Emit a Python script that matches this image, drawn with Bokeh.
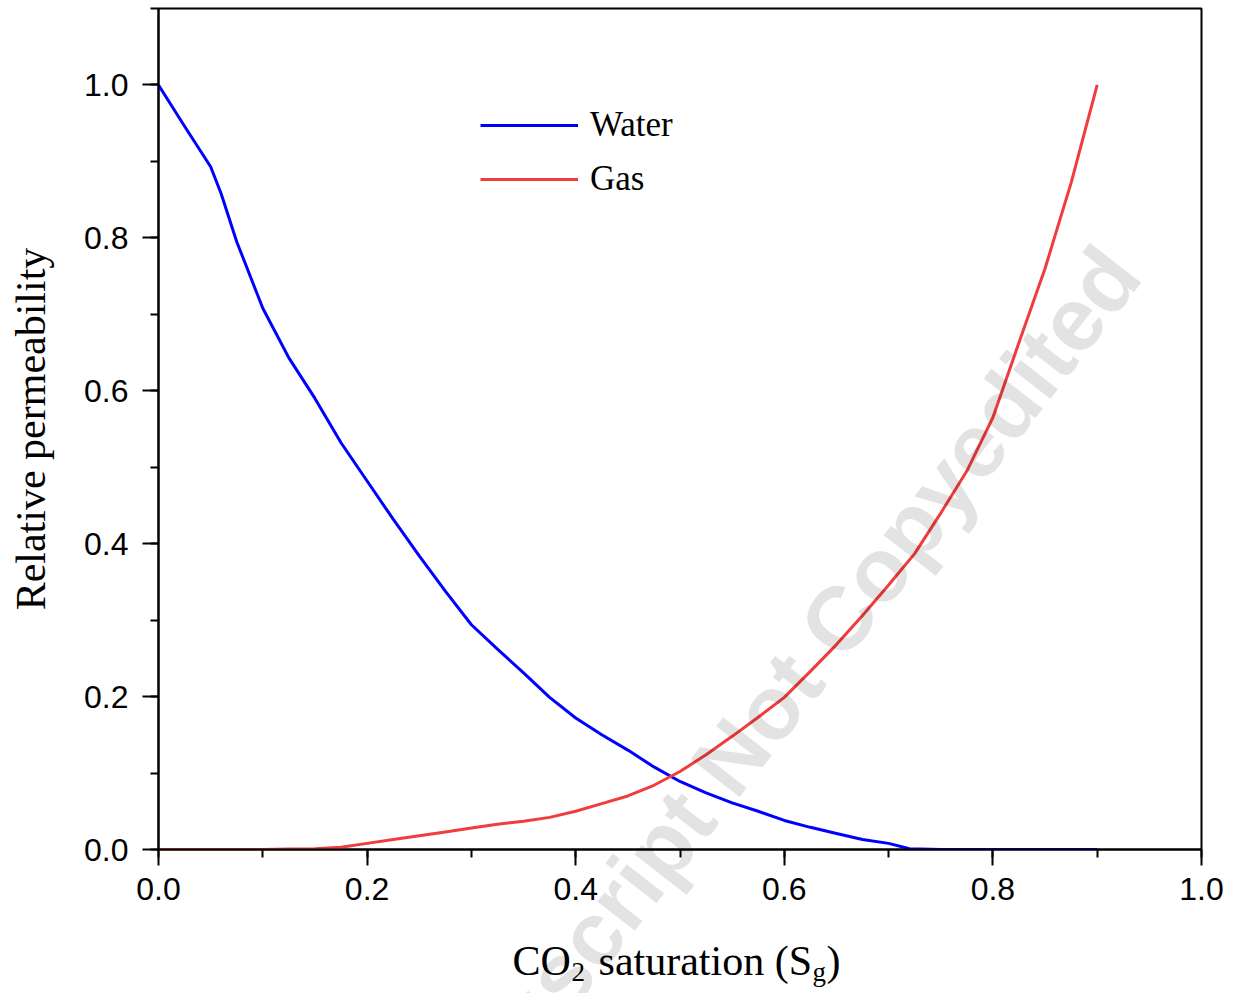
from bokeh.plotting import figure
from bokeh.models import (Label, Legend, LegendItem, SingleIntervalTicker,
                          Range1d, PrintfTickFormatter)
from bokeh.embed import file_html
from bokeh.resources import INLINE

# CO2 saturation (fraction of pore volume)
sg_water = [0.000, 0.025, 0.050, 0.060, 0.075, 0.100, 0.125, 0.150, 0.175,
            0.200, 0.225, 0.250, 0.275, 0.300, 0.325, 0.350, 0.375, 0.400,
            0.425, 0.450, 0.475, 0.500, 0.525, 0.550, 0.575, 0.600, 0.625,
            0.650, 0.675, 0.700, 0.720, 0.750, 0.800, 0.850, 0.900]
# Water relative permeability
krw = [1.000, 0.946, 0.893, 0.858, 0.795, 0.708, 0.643, 0.590, 0.532,
       0.482, 0.432, 0.384, 0.338, 0.294, 0.262, 0.231, 0.199, 0.172,
       0.150, 0.130, 0.108, 0.089, 0.074, 0.061, 0.050, 0.038, 0.029,
       0.021, 0.013, 0.008, 0.001, 0.000, 0.000, 0.000, 0.000]

sg_gas = [0.000, 0.050, 0.100, 0.125, 0.150, 0.175, 0.200, 0.225, 0.250,
          0.275, 0.300, 0.325, 0.350, 0.375, 0.400, 0.425, 0.450, 0.475,
          0.500, 0.525, 0.550, 0.575, 0.600, 0.625, 0.650, 0.675, 0.700,
          0.725, 0.750, 0.775, 0.800, 0.825, 0.850, 0.875, 0.900]
# Gas (CO2) relative permeability
krg = [0.000, 0.000, 0.000, 0.0005, 0.001, 0.003, 0.008, 0.013, 0.018,
       0.023, 0.028, 0.033, 0.037, 0.042, 0.050, 0.060, 0.070, 0.084,
       0.102, 0.124, 0.148, 0.173, 0.199, 0.233, 0.268, 0.306, 0.346,
       0.387, 0.440, 0.495, 0.565, 0.663, 0.760, 0.872, 1.000]

series_names = ["Water", "Gas"]
series_colors = ["#0000FF", "#F03C3C"]

SANS = "Liberation Sans"
SERIF = "Liberation Serif"

p = figure(frame_width=1043, frame_height=841,
           x_range=Range1d(0, 1.0), y_range=Range1d(0, 1.1),
           min_border_left=158, min_border_right=33,
           min_border_top=8, min_border_bottom=144,
           output_backend="svg", toolbar_location=None)

p.grid.visible = False
p.background_fill_color = "white"
p.border_fill_color = "white"
p.outline_line_color = "black"
p.outline_line_width = 2
p.outline_line_alpha = 1.0

for ax in (p.xaxis[0], p.yaxis[0]):
    ax.ticker = SingleIntervalTicker(interval=0.2, num_minor_ticks=2)
    ax.formatter = PrintfTickFormatter(format="%.1f")
    ax.axis_line_color = "black"
    ax.axis_line_width = 2
    ax.major_tick_line_color = "black"
    ax.major_tick_line_width = 2
    ax.minor_tick_line_color = "black"
    ax.minor_tick_line_width = 2
    ax.major_tick_in = 0
    ax.major_tick_out = 16
    ax.minor_tick_in = 0
    ax.minor_tick_out = 8
    ax.major_label_text_font = SANS
    ax.major_label_text_font_size = "32px"
    ax.major_label_text_color = "black"

p.xaxis.major_label_standoff = 12
p.yaxis.major_label_standoff = 14

p.yaxis.axis_label = "Relative permeability"
p.yaxis.axis_label_text_font = SERIF
p.yaxis.axis_label_text_font_style = "normal"
p.yaxis.axis_label_text_font_size = "42px"
p.yaxis.axis_label_text_color = "black"
p.yaxis.axis_label_standoff = 27

r_w = p.line(sg_water, krw, line_color=series_colors[0], line_width=3)
r_g = p.line(sg_gas, krg, line_color=series_colors[1], line_width=3)

legend = Legend(items=[LegendItem(label=series_names[0], renderers=[r_w]),
                       LegendItem(label=series_names[1], renderers=[r_g])],
                location=(322, 648), orientation="vertical",
                border_line_alpha=0, background_fill_alpha=0,
                padding=0, margin=0, spacing=10,
                glyph_width=98, glyph_height=44, label_height=44,
                label_standoff=12,
                label_text_font=SERIF, label_text_font_size="35px",
                label_text_color="black")
p.add_layout(legend)

# x-axis title with subscripts, assembled from separate pieces
# (kept in the lower side panel so they are not clipped to the frame)
title_parts = [("CO", 0.3394, -0.146, "42px"),
               ("2", 0.3960, -0.160, "27px"),
               ("saturation (S", 0.4219, -0.146, "42px"),
               ("g", 0.6270, -0.160, "27px"),
               (")", 0.6405, -0.146, "42px")]
for txt, xx, yy, fs in title_parts:
    p.add_layout(Label(x=xx, y=yy, text=txt, text_font=SERIF,
                       text_font_size=fs, text_color="black",
                       text_align="left", text_baseline="alphabetic"),
                 "below")

# diagonal watermark running across the whole figure
p.add_layout(Label(x=0.5772, y=0.1697, text="Manuscript Not Copyedited",
                   angle=52, angle_units="deg", text_font=SANS,
                   text_font_style="bold", text_font_size="90px",
                   text_color="black", text_alpha=0.11,
                   text_align="center", text_baseline="middle",
                   level="overlay"),
             "below")

open("out.html", "w").write(file_html(p, INLINE))
